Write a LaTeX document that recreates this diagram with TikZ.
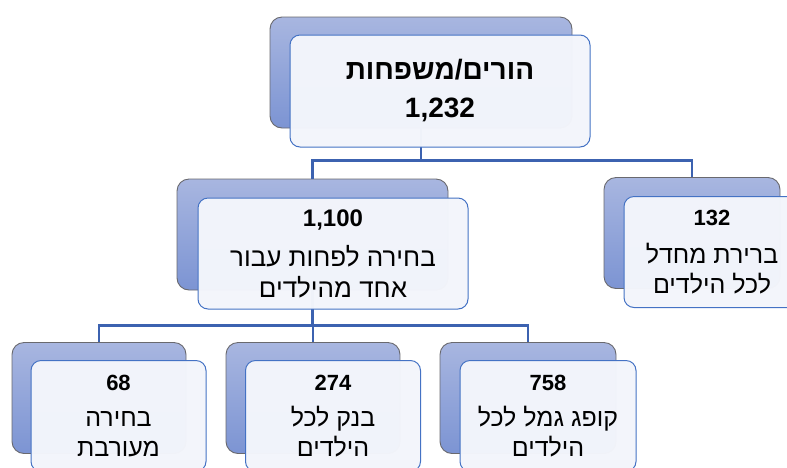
\documentclass[tikz,border=0pt]{standalone}
\usepackage{fontspec}
\setmainfont{Liberation Sans}
\newfontfamily\hebfont[Script=Hebrew]{Liberation Sans}
\TeXXeTstate=1
\usetikzlibrary{calc}

\definecolor{backtop}{RGB}{168,182,224}
\definecolor{backbot}{RGB}{124,148,211}
\definecolor{backline}{RGB}{105,105,110}
\definecolor{frontfill}{RGB}{243,245,251}
\definecolor{frontline}{RGB}{68,114,196}
\definecolor{linkblue}{RGB}{60,98,176}

\newcommand\heb[1]{{\hebfont\beginR #1\endR}}

\tikzset{
    backbox/.style={draw=backline, line width=0.9pt, rounded corners=12pt, top color=backtop, bottom color=backbot, minimum height=111pt},
    frontbox/.style={draw=frontline, line width=1pt, rounded corners=10pt, fill=frontfill, fill opacity=0.98, text opacity=1, align=center, minimum height=111pt, inner sep=0pt, font=\fontsize{25}{30}\selectfont},
    link/.style={draw=linkblue, line width=2.6pt}
}

\begin{document}
\begin{tikzpicture}[x=1pt, y=-1pt]
                \useasboundingbox (0,0) rectangle (787,467);
                \clip (0,0) rectangle (787,467);
                \node[backbox, minimum width=302pt] (famBack) at (421,72.5) {};
                \node[backbox, minimum width=271pt] (someBack) at (312.5,234.5) {};
                \node[backbox, minimum width=176pt] (dfltBack) at (692,233) {};
                \node[backbox, minimum width=174pt] (mixBack) at (99,398) {};
                \node[backbox, minimum width=174pt] (bankBack) at (313,398) {};
                \node[backbox, minimum width=176pt] (fundBack) at (528,398) {};
                \coordinate (famSplit) at ($(famBack.south)+(0,32)$);
                \coordinate (someSplit) at ($(someBack.south)+(0,35)$);
                \draw[link] (famBack.south)--(famSplit);
                \draw[link] (famSplit)-|(someBack.north);
                \draw[link] (famSplit)-|(dfltBack.north);
                \draw[link] (someBack.south)--(someSplit);
                \draw[link] (someSplit)-|(mixBack.north);
                \draw[link] (someSplit)-|(bankBack.north);
                \draw[link] (someSplit)-|(fundBack.north);
                \node[frontbox, minimum width=300pt, minimum height=112pt, font=\fontsize{28}{38}\selectfont\bfseries] (fam) at (440,91) {\heb{הורים/משפחות}\\1,232};
                \node[frontbox, minimum width=270pt, font=\fontsize{26}{31}\selectfont] (some) at (333,253.5) {{\fontsize{24}{31}\selectfont\bfseries 1,100}\\[9pt]\heb{בחירה לפחות עבור}\\\heb{אחד מהילדים}};
                \node[frontbox, minimum width=176pt] (dflt) at (712,252) {{\fontsize{22}{30}\selectfont\bfseries 132}\\[8pt]\heb{ברירת מחדל}\\\heb{לכל הילדים}};
                \node[frontbox, minimum width=175pt] (mix) at (118.5,416) {{\fontsize{22}{30}\selectfont\bfseries 68}\\[6pt]\heb{בחירה}\\\heb{מעורבת}};
                \node[frontbox, minimum width=175pt] (bank) at (333,416) {{\fontsize{22}{30}\selectfont\bfseries 274}\\[6pt]\heb{בנק לכל}\\\heb{הילדים}};
                \node[frontbox, minimum width=176pt] (fund) at (548,416) {{\fontsize{22}{30}\selectfont\bfseries 758}\\[6pt]\heb{קופג גמל לכל}\\\heb{הילדים}};
\end{tikzpicture}
\end{document}
